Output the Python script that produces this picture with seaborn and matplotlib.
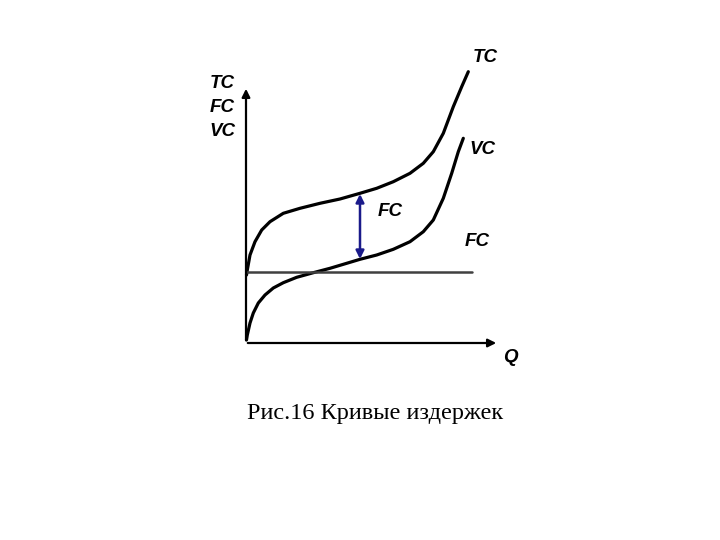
import matplotlib
matplotlib.use("Agg")
import matplotlib.pyplot as plt
import seaborn as sns
import pandas as pd

# Values (Q to the right, cost upward)
q_vc = [0.5, 1.3, 4, 7.3, 12.3, 19, 27.3, 37.3, 50.7, 67.3, 84, 100.7, 114,
        130.7, 147.3, 164, 177.3, 187.3, 197.3, 205.7, 212.3, 217.3]
vc = [3, 8, 20, 30, 40, 48, 55, 60.3, 65.7, 70.3, 74.7, 79.7, 83.7,
      88, 93.7, 101.3, 111.3, 123, 144.7, 169.7, 191.3, 204.7]

q_tc = [0.5, 1.3, 4, 9, 15.7, 24, 37.3, 54, 74, 94, 114,
        130.7, 147.3, 164, 177.3, 187.3, 197.3, 207.3, 215.7, 222.3]
tc = [68, 73, 88, 101.3, 113, 121.3, 129.7, 134.7, 139.7, 144, 149.7,
      154.7, 161.3, 169.7, 179.7, 191.3, 209.7, 236.3, 256.3, 271.3]

q_fc = [0, 226]
fc = [71, 71]

arrow_q = 114
arrow_lo, arrow_hi = 84, 149

sns.set_style("white")
plt.rcParams['font.family'] = ['Liberation Sans', 'DejaVu Sans']
plt.rcParams['text.color'] = 'black'

fig = plt.figure(figsize=(7.2, 5.4), dpi=100)
ax = fig.add_axes([0, 0, 1, 1])
ax.set_xlim(-246, 474)
ax.set_ylim(-197, 343)
ax.axis("off")

df_vc = pd.DataFrame({"Q": q_vc, "C": vc})
df_tc = pd.DataFrame({"Q": q_tc, "C": tc})
df_fc = pd.DataFrame({"Q": q_fc, "C": fc})

sns.lineplot(data=df_vc, x="Q", y="C", ax=ax, color="black", lw=2.3, sort=False)
sns.lineplot(data=df_tc, x="Q", y="C", ax=ax, color="black", lw=2.3, sort=False)
sns.lineplot(data=df_fc, x="Q", y="C", ax=ax, color="#404040", lw=1.8, sort=False)

# axes with arrows
ax.annotate("", xy=(0, 257), xytext=(0, 0),
            arrowprops=dict(arrowstyle="-|>", color="black", lw=1.6, mutation_scale=12))
ax.annotate("", xy=(253, 0), xytext=(-1, 0),
            arrowprops=dict(arrowstyle="-|>", color="black", lw=1.6, mutation_scale=12))

# FC gap arrow
ax.annotate("", xy=(arrow_q, arrow_hi), xytext=(arrow_q, arrow_lo),
            arrowprops=dict(arrowstyle="<|-|>", color="#1a1a8a", lw=1.8, mutation_scale=12,
                            shrinkA=0, shrinkB=0))

lab = dict(fontsize=13.5, fontweight="bold", fontstyle="italic", ha="center", va="center",
           color="black")
ax.text(239, 286, "TC", **lab)
ax.text(236, 193, "VC", **lab)
ax.text(231, 101, "FC", **lab)
ax.text(144, 131, "FC", **lab)
ax.text(-24, 260, "TC", **lab)
ax.text(-24, 235, "FC", **lab)
ax.text(-24, 211, "VC", **lab)
ax.text(264, -14, "Q", **lab)

ax.text(129, -70, "Рис.16 Кривые издержек", fontsize=17.5, ha="center", va="center",
        color="black", family=["Liberation Serif", "DejaVu Serif"])

fig.savefig("out.png", dpi=100)
